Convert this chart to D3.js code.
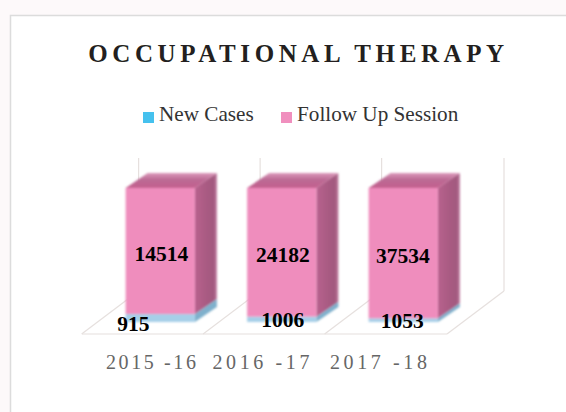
<!DOCTYPE html>
<html><head><meta charset="utf-8">
<script src="https://cdn.jsdelivr.net/npm/d3@7"></script>
<style>
html,body{margin:0;padding:0;background:#fff}
svg{display:block}
text{font-family:"Liberation Serif",serif}
</style></head><body><svg id="c" width="566" height="412"></svg>
<script>
const categories=["2015 -16","2016 -17","2017 -18"];
const seriesNames=["New Cases","Follow Up Session"];
const newCases=[915,1006,1053];
const followUp=[14514,24182,37534];
const colors=["#45c1ee","#f08fbe"];
const faceColors=["#a6cfe8","#ef8dbd"];
const sideColors=["#7fb0cc","url(#sideGrad)"];
const topColors=["#8fc4de","url(#topGrad)"];

const svg=d3.select("#c");
const W=566,H=412;
const table=categories.map((c,i)=>({c,[seriesNames[0]]:newCases[i],[seriesNames[1]]:followUp[i]}));
const stack=d3.stack().keys(seriesNames).offset(d3.stackOffsetExpand)(table);

const x=d3.scaleBand().domain(categories).range([99.5,464]).paddingInner(0.43).paddingOuter(0.215);
const y=d3.scaleLinear().domain([0,1]).range([322,188]);
const dx=22,dy=-15;
const floorY=334,floorDx=57,floorDy=-43;
const wallTop=158;

const defs=svg.append("defs");
defs.append("filter").attr("id","soft").append("feGaussianBlur").attr("stdDeviation",0.9);
const sg=defs.append("linearGradient").attr("id","sideGrad");
[[0,"#b8628e"],[0.55,"#a85a82"],[0.85,"#a25a7f"],[1,"#c07a9f"]].forEach(s=>sg.append("stop").attr("offset",s[0]).attr("stop-color",s[1]));
const tg=defs.append("linearGradient").attr("id","topGrad").attr("x1",0).attr("y1",1).attr("x2",0).attr("y2",0);
[[0,"#c4608f"],[0.55,"#bb6a94"],[1,"#dc9abb"]].forEach(s=>tg.append("stop").attr("offset",s[0]).attr("stop-color",s[1]));

// backdrop and panel
svg.append("rect").attr("width",W).attr("height",H).attr("fill","#fdf9fa");
svg.append("rect").attr("x",10.5).attr("y",15.5).attr("width",W).attr("height",H)
  .attr("fill","#fff").attr("stroke","#dcdcdc").attr("stroke-width",1.5);

// title
svg.append("text").attr("x",298.5).attr("y",62).attr("text-anchor","middle")
  .attr("font-size",25).attr("font-weight","bold").attr("letter-spacing",4.6).attr("fill","#231f20")
  .text("OCCUPATIONAL THERAPY");

// legend
const legendX=[143,281];
const lg=svg.selectAll("g.lg").data(seriesNames).join("g").attr("class","lg")
  .attr("transform",(d,i)=>`translate(${legendX[i]},0)`);
lg.append("rect").attr("y",112).attr("width",11).attr("height",11).attr("fill",(d,i)=>colors[i]);
lg.append("text").attr("x",16).attr("y",121).attr("font-size",21.2).attr("fill","#333").text(d=>d);

// floor and walls
const gridStroke="#e6e0de";
const grid=svg.append("g").attr("fill","none").attr("stroke",gridStroke).attr("stroke-width",1.2);
grid.append("line").attr("x1",82).attr("x2",447).attr("y1",floorY).attr("y2",floorY);
categories.forEach(c=>{
  const x0=x(c)-44;
  grid.append("line").attr("x1",x0).attr("y1",floorY).attr("x2",x0+floorDx).attr("y2",floorY+floorDy);
  grid.append("line").attr("x1",x0+floorDx).attr("y1",floorY+floorDy).attr("x2",x0+floorDx).attr("y2",wallTop);
});
grid.append("line").attr("x1",447).attr("y1",floorY).attr("x2",447+floorDx).attr("y2",floorY+floorDy);
grid.append("line").attr("x1",447+floorDx).attr("y1",floorY+floorDy).attr("x2",447+floorDx).attr("y2",wallTop);

// 3D stacked bars
const bars=svg.append("g").attr("filter","url(#soft)");
stack.forEach((s,si)=>{
  s.forEach(d=>{
    const c=d.data.c,xl=x(c),xr=xl+x.bandwidth(),yt=y(d[1]),yb=y(d[0]);
    bars.append("path").attr("fill",sideColors[si])
      .attr("d",`M${xr},${yt}L${xr+dx},${yt+dy}L${xr+dx},${yb+dy}L${xr},${yb}Z`);
    if(si===stack.length-1) bars.append("path").attr("fill",topColors[si])
      .attr("d",`M${xl},${yt}L${xl+dx},${yt+dy}L${xr+dx},${yt+dy}L${xr},${yt}Z`);
    bars.append("rect").attr("x",xl).attr("y",yt).attr("width",x.bandwidth()).attr("height",yb-yt)
      .attr("fill",faceColors[si]);
  });
});

// value labels
const followLabelDx=[1,1,-0.5];
const newLabelDx=[-27,1,-1], newLabelDy=[13,8,8];
svg.append("g").selectAll("text").data(stack[1]).join("text")
  .attr("x",(d,i)=>x(d.data.c)+x.bandwidth()/2+followLabelDx[i])
  .attr("y",d=>(y(d[0])+y(d[1]))/2+10)
  .attr("text-anchor","middle").attr("font-size",21.5).attr("font-weight","bold").attr("fill","#000")
  .text((d,i)=>followUp[i]);
svg.append("g").selectAll("text").data(stack[0]).join("text")
  .attr("x",(d,i)=>x(d.data.c)+x.bandwidth()/2+newLabelDx[i])
  .attr("y",(d,i)=>y(d[1])+newLabelDy[i]+ (322-y(d[1]))*0.5)
  .attr("text-anchor","middle").attr("font-size",21.5).attr("font-weight","bold").attr("fill","#000")
  .text((d,i)=>newCases[i]);

// category axis
const tickDx=[-8,-19,-23];
const tickSpacing=[2.6,3.6,3.6];
const ax=svg.append("g").attr("transform","translate(0,369)").call(d3.axisBottom(x).tickSize(0));
ax.select(".domain").remove();
ax.selectAll("text").attr("y",0).attr("dy",0)
  .attr("dx",(d,i)=>tickDx[i])
  .attr("font-size",20).attr("font-family","Liberation Serif").attr("fill","#666")
  .attr("letter-spacing",(d,i)=>tickSpacing[i]);
</script></body></html>
